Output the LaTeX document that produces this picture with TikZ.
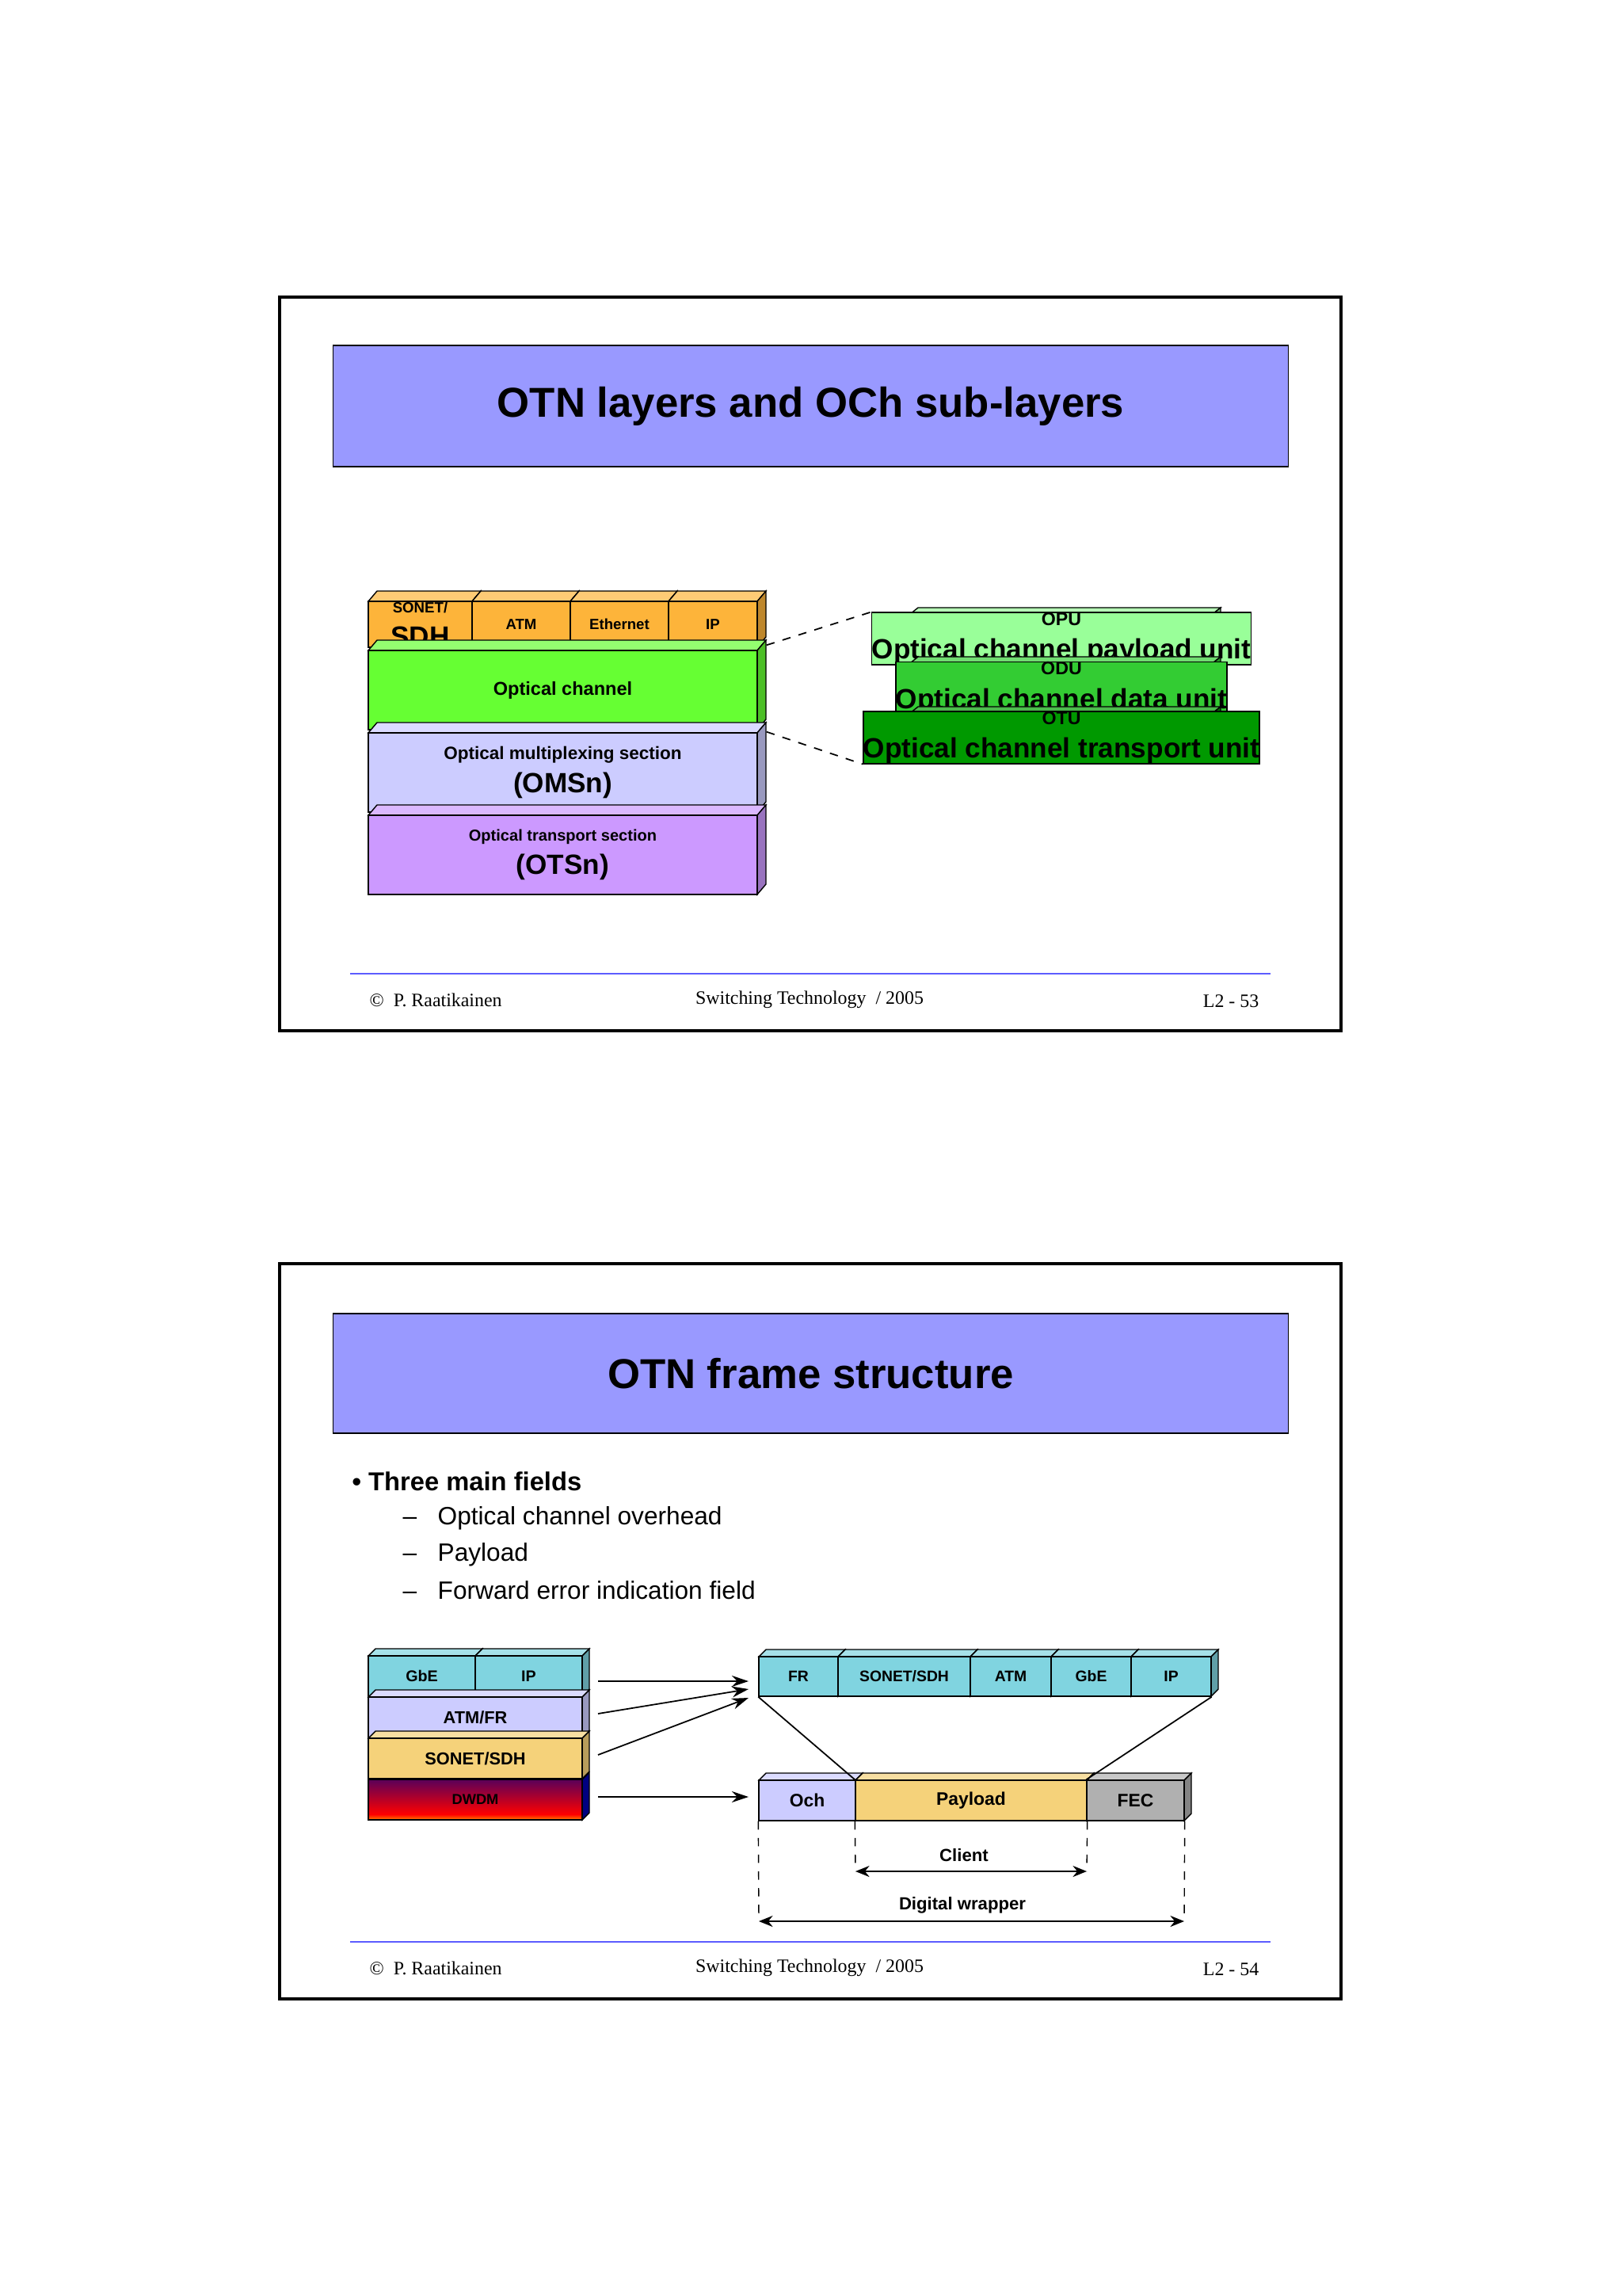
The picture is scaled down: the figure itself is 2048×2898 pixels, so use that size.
\documentclass[tikz,border=0pt]{standalone}
\usepackage{fontspec}
\usetikzlibrary{arrows.meta}
\setmainfont{Liberation Sans}
\newfontfamily\serif{Liberation Serif}
\definecolor{orng}{HTML}{FDB43A}
\definecolor{och}{HTML}{66FF33}
\definecolor{lav}{HTML}{CCCCFF}
\definecolor{purp}{HTML}{CC99FF}
\definecolor{opu}{HTML}{99FF99}
\definecolor{odu}{HTML}{33CC33}
\definecolor{otu}{HTML}{009900}
\definecolor{ttl}{HTML}{9999FF}
\definecolor{cyn}{HTML}{80D4E0}
\definecolor{yel}{HTML}{F5D27A}
\definecolor{fec}{HTML}{B0B0B0}
\tikzset{
 cell/.style={draw,inner sep=0pt,align=center,font=\bfseries},
 ttlbox/.style={draw,fill=ttl,inner sep=0pt,font=\bfseries\fontsize{15}{18}\selectfont},
 foot/.style={font=\serif\fontsize{6.8}{8}\selectfont,inner sep=0pt},
 arr/.style={-{Stealth[length=6pt,width=4pt]},line width=0.5pt},
 dim/.style={{Stealth[length=5pt,width=4pt]}-{Stealth[length=5pt,width=4pt]},line width=0.5pt},
}
% name, x1, y1, x2, y2, fill, dx, dy, text
\newcommand\cubebox[9]{%
 \filldraw[fill=#6!70!white,line width=0.4pt] (#2,#3)--++(#7,-#8)--(#4+#7,#3-#8)--(#4,#3)--cycle;
 \filldraw[fill=#6!75!black,line width=0.4pt] (#4,#3)--(#4+#7,#3-#8)--(#4+#7,#5-#8)--(#4,#5)--cycle;
 \node[cell,fill=#6,minimum width={(#4-#2)*0.01cm},minimum height={(#5-#3)*0.01cm}] (#1) at ({(#2+#4)/2},{(#3+#5)/2}) {#9};}
\begin{document}
\begin{tikzpicture}[x=0.01cm,y=-0.01cm]
\useasboundingbox (0,0) rectangle (2048,2898);
\fill[white] (0,0) rectangle (2048,2898);
% ---------- Slide 1 ----------
\draw[line width=1pt] (353,375) rectangle (1693,1301);
\node[ttlbox,minimum width=12.05cm,minimum height=1.53cm] (t1) at (1023.5,512.5) {OTN layers and OCh sub-layers};
\cubebox{sonet}{465}{759}{596}{817}{orng}{11}{13}{\fontsize{5.3}{6}\selectfont SONET/\\SDH}
\cubebox{atm}{596}{759}{720}{817}{orng}{11}{13}{\fontsize{5.3}{6}\selectfont ATM}
\cubebox{eth}{720}{759}{844}{817}{orng}{11}{13}{\fontsize{5.3}{6}\selectfont Ethernet}
\cubebox{ip}{844}{759}{956}{817}{orng}{11}{13}{\fontsize{5.3}{6}\selectfont IP}
\cubebox{oc}{465}{821}{956}{921}{och}{11}{13}{\fontsize{6.7}{8}\selectfont Optical channel}
\cubebox{oms}{465}{925}{956}{1025}{lav}{11}{13}{\fontsize{6.4}{7.6}\selectfont Optical multiplexing section\\(OMSn)}
\cubebox{ots}{465}{1029}{956}{1129}{purp}{11}{13}{\fontsize{5.7}{6.8}\selectfont Optical transport section\\(OTSn)}
\cubebox{opu}{1149}{775}{1531}{837}{opu}{10}{8}{\fontsize{6.6}{7.4}\selectfont OPU\\Optical channel payload unit}
\cubebox{odu}{1149}{837}{1531}{900}{odu}{10}{8}{\fontsize{6.6}{7.4}\selectfont ODU\\Optical channel data unit}
\cubebox{otu}{1149}{900}{1531}{962}{otu}{10}{8}{\fontsize{6.6}{7.4}\selectfont OTU\\Optical channel transport unit}
\draw[dashed,line width=0.5pt] (oc.north east)++(11,-6) -- (opu.north west);
\draw[dashed,line width=0.5pt] (oc.south east)++(11,2) -- (otu.south west);
\draw[color=ttl!60!blue,line width=0.6pt] (442,1229) -- (1604,1229);
\node[foot,anchor=west] (f1a) at (466,1262) {\copyright\ \ P. Raatikainen};
\node[foot] (f1b) at (1022,1262) {Switching Technology \ / 2005};
\node[foot,anchor=east] (f1c) at (1590,1264) {L2 - 53};
% ---------- Slide 2 ----------
\draw[line width=1pt] (353,1595) rectangle (1693,2523);
\node[ttlbox,minimum width=12.05cm,minimum height=1.51cm] (t2) at (1023.5,1733.5) {OTN frame structure};
\node[anchor=west,inner sep=0pt,font=\bfseries\fontsize{9.3}{11}\selectfont] (b0) at (444,1870) {\textbullet\ Three main fields};
\node[anchor=west,inner sep=0pt,font=\fontsize{9}{11}\selectfont] (b1) at (508,1916) {\textendash\ \ \ Optical channel overhead};
\node[anchor=west,inner sep=0pt,font=\fontsize{9}{11}\selectfont] (b2) at (508,1962) {\textendash\ \ \ Payload};
\node[anchor=west,inner sep=0pt,font=\fontsize{9}{11}\selectfont] (b3) at (508,2007) {\textendash\ \ \ Forward error indication field};
% left stack
\cubebox{gbe}{465}{2090}{600}{2141}{cyn}{9}{9}{\fontsize{5.6}{6}\selectfont GbE}
\cubebox{lip}{600}{2090}{735}{2141}{cyn}{9}{9}{\fontsize{5.6}{6}\selectfont IP}
\cubebox{atmfr}{465}{2142}{735}{2193}{lav}{9}{9}{\fontsize{6.2}{7}\selectfont ATM/FR}
\cubebox{lsonet}{465}{2194}{735}{2245}{yel}{9}{9}{\fontsize{6.2}{7}\selectfont SONET/SDH}
\filldraw[fill=blue!50!black,line width=0.4pt] (735,2246)--(744,2237)--(744,2288)--(735,2297)--cycle;
\shade[top color=violet!70!black,bottom color=red] (465,2246) rectangle (735,2290);
\shade[top color=red,bottom color=orange] (465,2290) rectangle (735,2297);
\node[cell,minimum width=2.7cm,minimum height=0.51cm] (dwdm) at (600,2271.5) {\fontsize{5.2}{6}\selectfont DWDM};
% right top
\cubebox{fr}{958}{2091}{1058}{2141}{cyn}{9}{9}{\fontsize{5.5}{6}\selectfont FR}
\cubebox{rsonet}{1058}{2091}{1225}{2141}{cyn}{9}{9}{\fontsize{5.5}{6}\selectfont SONET/SDH}
\cubebox{ratm}{1225}{2091}{1327}{2141}{cyn}{9}{9}{\fontsize{5.5}{6}\selectfont ATM}
\cubebox{rgbe}{1327}{2091}{1428}{2141}{cyn}{9}{9}{\fontsize{5.5}{6}\selectfont GbE}
\cubebox{rip}{1428}{2091}{1529}{2141}{cyn}{9}{9}{\fontsize{5.5}{6}\selectfont IP}
% frame
\cubebox{ochb}{958}{2247}{1080}{2298}{lav}{9}{9}{\fontsize{6.5}{7}\selectfont Och}
\cubebox{pay}{1080}{2247}{1372}{2298}{yel}{9}{9}{\fontsize{6.5}{7}\selectfont Payload}
\cubebox{fecb}{1372}{2247}{1495}{2298}{fec}{9}{9}{\fontsize{6.5}{7}\selectfont FEC}
% arrows
\coordinate (a1s) at (755,2122); \coordinate (a1e) at (945,2122);
\coordinate (a2s) at (755,2163); \coordinate (a2e) at (945,2132);
\coordinate (a3s) at (755,2215); \coordinate (a3e) at (945,2143);
\coordinate (a4s) at (755,2268); \coordinate (a4e) at (945,2268);
\draw[arr] (a1s) -- (a1e);
\draw[arr] (a2s) -- (a2e);
\draw[arr] (a3s) -- (a3e);
\draw[arr] (a4s) -- (a4e);
\draw[line width=0.5pt] (fr.south west) -- (pay.north west);
\draw[line width=0.5pt] (rip.south east) -- (fecb.north west);
% dimensions
\coordinate (c1) at (1080,2362); \coordinate (c2) at (1372,2362);
\coordinate (d1) at (958,2425); \coordinate (d2) at (1495,2425);
\draw[dashed,line width=0.4pt] (pay.south west) -- (c1);
\draw[dashed,line width=0.4pt] (pay.south east) -- (c2);
\draw[dashed,line width=0.4pt] (ochb.south west) -- (d1);
\draw[dashed,line width=0.4pt] (fecb.south east) -- (d2);
\draw[dim] (c1) -- (c2);
\draw[dim] (d1) -- (d2);
\node[font=\bfseries\fontsize{6.3}{7}\selectfont,inner sep=0pt] (cl) at (1217,2342) {Client};
\node[font=\bfseries\fontsize{6.3}{7}\selectfont,inner sep=0pt] (dw) at (1215,2405) {Digital wrapper};
\draw[color=ttl!60!blue,line width=0.6pt] (442,2451) -- (1604,2451);
\node[foot,anchor=west] (f2a) at (466,2484) {\copyright\ \ P. Raatikainen};
\node[foot] (f2b) at (1022,2484) {Switching Technology \ / 2005};
\node[foot,anchor=east] (f2c) at (1590,2486) {L2 - 54};
\end{tikzpicture}
\end{document}
